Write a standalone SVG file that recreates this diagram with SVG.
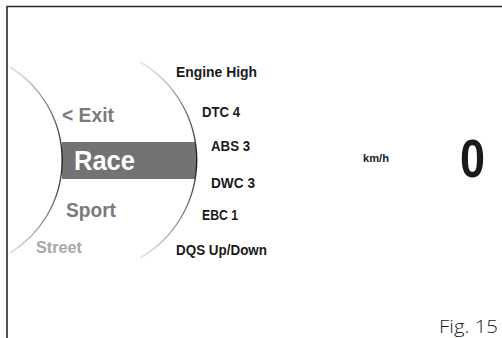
<svg xmlns="http://www.w3.org/2000/svg" width="502" height="338" viewBox="0 0 502 338">
<defs>
<style>
.t{font-family:"Liberation Sans","Arial",sans-serif;font-weight:bold;}
.set{font-size:14px;fill:#1a1a1a;}
.mode{font-size:21px;fill:#7a7a7a;}
</style>
<linearGradient id="gl" gradientUnits="userSpaceOnUse" x1="0" y1="62" x2="0" y2="258">
<stop offset="0" stop-color="#e0e0e0"/>
<stop offset="0.5" stop-color="#111"/>
<stop offset="1" stop-color="#e0e0e0"/>
</linearGradient>
</defs>
<rect width="502" height="338" fill="#fff"/>
<path d="M7,338 V6.5 H502" fill="none" stroke="#2a2a2a" stroke-width="1.6"/>
<g id="selector">
<rect x="62" y="142" width="134" height="37" fill="#737373"/>
<path d="M10,67 A109,109 0 0 1 10,253" fill="none" stroke="url(#gl)" stroke-width="1.3"/>
<path d="M140,62 A113,113 0 0 1 140,258" fill="none" stroke="url(#gl)" stroke-width="1.3"/>
</g>
<g id="modes" class="t">
<text class="mode" x="62" y="122" textLength="52" lengthAdjust="spacingAndGlyphs">&lt; Exit</text>
<text x="74" y="170" font-size="28" fill="#fff" textLength="61" lengthAdjust="spacingAndGlyphs">Race</text>
<text class="mode" x="66" y="217" textLength="50" lengthAdjust="spacingAndGlyphs">Sport</text>
<text x="36" y="253" font-size="17" fill="#a8a8a8" textLength="46" lengthAdjust="spacingAndGlyphs">Street</text>
</g>
<g id="settings" class="t set">
<text x="176" y="77" textLength="81" lengthAdjust="spacingAndGlyphs">Engine High</text>
<text x="202" y="117" textLength="38" lengthAdjust="spacingAndGlyphs">DTC 4</text>
<text x="211" y="151" textLength="39" lengthAdjust="spacingAndGlyphs">ABS 3</text>
<text x="211" y="188" textLength="44" lengthAdjust="spacingAndGlyphs">DWC 3</text>
<text x="202" y="220" textLength="36" lengthAdjust="spacingAndGlyphs">EBC 1</text>
<text x="176" y="255" textLength="91" lengthAdjust="spacingAndGlyphs">DQS Up/Down</text>
</g>
<g id="speed" class="t">
<text x="363" y="162" font-size="11" fill="#222" textLength="26" lengthAdjust="spacingAndGlyphs">km/h</text>
<text x="460" y="177" font-size="54" fill="#1a1a1a" textLength="25" lengthAdjust="spacingAndGlyphs">0</text>
</g>
<text x="439" y="333" font-family="'Open Sans','Liberation Sans',sans-serif" font-weight="300" font-size="19" fill="#222" textLength="59" lengthAdjust="spacingAndGlyphs">Fig. 15</text>
</svg>
